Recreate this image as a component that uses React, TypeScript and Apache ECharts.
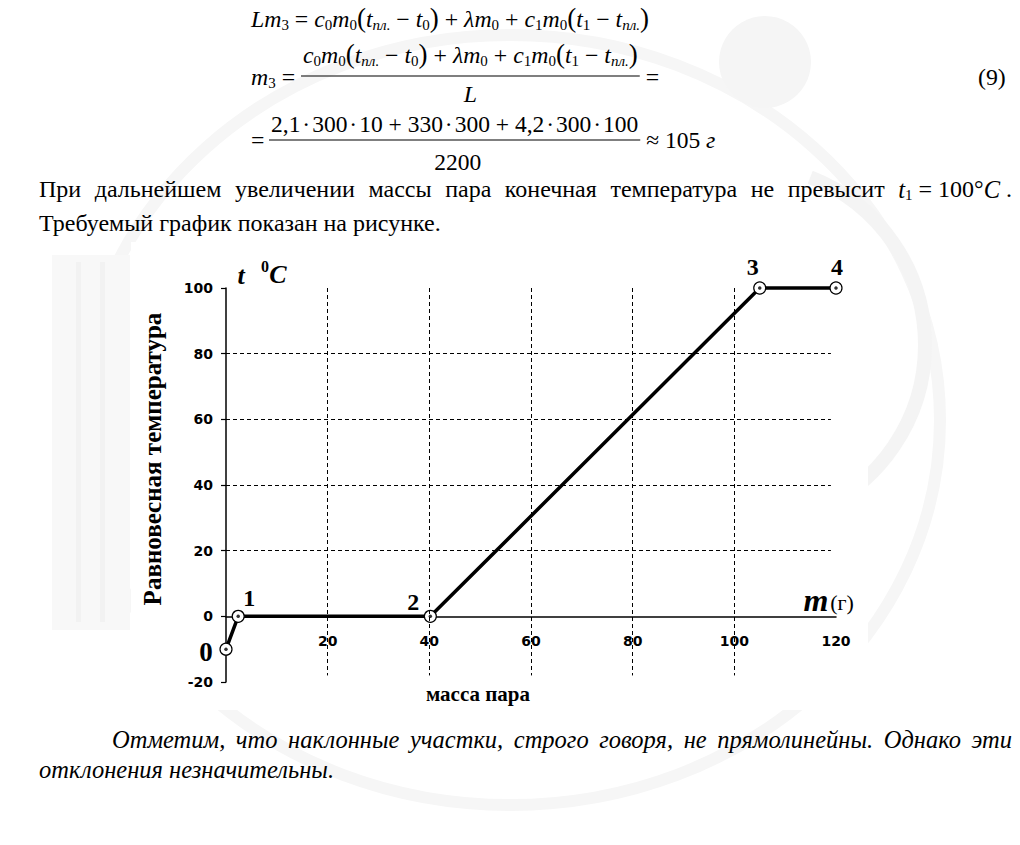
import React, { useEffect, useRef } from "react";
import * as echarts from "echarts";

const W = 1020;
const H = 845;

// ---------- chart data ----------
const massPoints = [0, 2.4, 40.2, 105, 120];
const tempPoints = [-10, 0, 0, 100, 100];
const pointLabels = ["0", "1", "2", "3", "4"];
const xTickInterval = 20;
const yTickInterval = 20;
const xMin = 0;
const xMax = 120;
const yMin = -20;
const yMax = 100;
const gridXValues = [20, 40, 60, 80, 100];
const gridYValues = [20, 40, 60, 80];
const gridLineBottom = -18;
const gridLineRight = 119;

// ---------- texts ----------
const yTitle = "Равновесная температура";
const xTitle = "масса пара";
const para1Words = ["При", "дальнейшем", "увеличении", "массы", "пара", "конечная", "температура", "не", "превысит"];
const para2 = "Требуемый график показан на рисунке.";
const noteWords = ["Отметим,", "что", "наклонные", "участки,", "строго", "говоря,", "не", "прямолинейны.", "Однако", "эти"];
const note2 = "отклонения незначительны.";

// label offsets (style only)
const labelOffsets = [
  [-20, 3],
  [11, -18],
  [-17, -14],
  [-7, -21],
  [1, -21],
];

const SERIF = "Liberation Serif";
const SANS = "DejaVu Sans";

// grid geometry (layout)
const GRID_LEFT = 226;
const GRID_TOP = 288;
const GRID_W = 610;
const GRID_H = 394;

type Kind = { size: number; it: boolean; bold?: boolean; dy: number };
const KINDS: Record<string, Kind> = {
  n: { size: 23.8, it: false, dy: 0 },
  i: { size: 23.8, it: true, dy: 0 },
  d: { size: 23.5, it: false, dy: 0 },
  s: { size: 15, it: false, dy: 6 },
  si: { size: 15, it: true, dy: 6 },
  p: { size: 27, it: false, dy: -1 },
  N: { size: 24, it: false, dy: 0 },
  I: { size: 24.5, it: true, dy: 0 },
  S: { size: 15, it: false, dy: 6 },
};

let mctx: CanvasRenderingContext2D | null = null;
function measure(text: string, k: Kind) {
  if (!mctx) mctx = document.createElement("canvas").getContext("2d");
  mctx!.font = `${k.it ? "italic " : ""}${k.bold ? "bold " : ""}${k.size}px "${SERIF}"`;
  return mctx!.measureText(text).width;
}

type Seg = [string, string];

function runWidth(segs: Seg[]) {
  let w = 0;
  for (const [t, k] of segs) w += measure(t, KINDS[k]);
  return w;
}

function textStyle(text: string, k: Kind) {
  const st: any = {
    text,
    fontFamily: SERIF,
    fontSize: k.size,
    fill: "#000",
    align: "left",
    verticalAlign: "middle",
  };
  if (k.it) st.fontStyle = "italic";
  if (k.bold) st.fontWeight = "bold";
  return st;
}

function runEls(segs: Seg[], x: number, y: number): any[] {
  const els: any[] = [];
  let cx = x;
  for (const [t, kn] of segs) {
    const k = KINDS[kn];
    els.push({ type: "text", x: cx, y: y + k.dy, z: 10, style: textStyle(t, k) });
    cx += measure(t, k);
  }
  return els;
}

function justify(words: Seg[][], x1: number, x2: number, y: number): any[] {
  const widths = words.map(runWidth);
  const total = widths.reduce((a, b) => a + b, 0);
  const gap = (x2 - x1 - total) / (words.length - 1);
  const els: any[] = [];
  let cx = x1;
  words.forEach((w, i) => {
    els.push(...runEls(w, cx, y));
    cx += widths[i] + gap;
  });
  return els;
}

const numer: Seg[] = [
  ["c", "i"], ["0", "s"], ["m", "i"], ["0", "s"], ["(", "p"], ["t", "i"], ["пл.", "si"], [" − ", "n"], ["t", "i"], ["0", "s"], [")", "p"],
  [" + ", "n"], ["λ", "i"], ["m", "i"], ["0", "s"], [" + ", "n"],
  ["c", "i"], ["1", "s"], ["m", "i"], ["0", "s"], ["(", "p"], ["t", "i"], ["1", "s"], [" − ", "n"], ["t", "i"], ["пл.", "si"], [")", "p"],
];
const row1: Seg[] = [["L", "i"], ["m", "i"], ["3", "s"], [" = ", "n"], ...numer];
const HS = "\u200A";
const numer3: Seg[] = [[`2,1${HS}·${HS}300${HS}·${HS}10 + 330${HS}·${HS}300 + 4,2${HS}·${HS}300${HS}·${HS}100`, "d"]];

function titleText(x: number, y: number, text: string, size: number, opts: any = {}) {
  const st: any = { text, fontFamily: SERIF, fontSize: size, fill: "#000", align: "center", verticalAlign: "middle" };
  if (opts.italic) st.fontStyle = "italic";
  if (opts.bold) st.fontWeight = "bold";
  const el: any = { type: "text", z: 10, x, y, style: st };
  if (opts.rotation) el.rotation = opts.rotation;
  return el;
}

function buildGraphics(): any[] {
  const g: any[] = [];
  // faint watermark
  g.push({ type: "ellipse", z: -20, silent: true, shape: { cx: 510, cy: 420, rx: 430, ry: 385 }, style: { fill: "none", stroke: "#f6f6f6", lineWidth: 12 } });
  g.push({ type: "circle", z: -20, silent: true, shape: { cx: 765, cy: 62, r: 46 }, style: { fill: "#f5f5f5" } });
  g.push({ type: "rect", z: -20, silent: true, shape: { x: 52, y: 255, width: 78, height: 375 }, style: { fill: "#f8f8f8" } });
  g.push({ type: "rect", z: -19, silent: true, shape: { x: 76, y: 262, width: 5, height: 360 }, style: { fill: "#f2f2f2" } });
  g.push({ type: "rect", z: -19, silent: true, shape: { x: 100, y: 262, width: 5, height: 360 }, style: { fill: "#f2f2f2" } });
  g.push({ type: "arc", z: -20, silent: true, shape: { cx: 745, cy: 345, r: 180, startAngle: -1.2, endAngle: 1.2 }, style: { fill: "none", stroke: "#f4f4f4", lineWidth: 14 } });
  // white inset of the figure
  g.push({ type: "rect", z: -5, silent: true, shape: { x: 131, y: 242, width: 737, height: 468 }, style: { fill: "#fff" } });

  // formulas
  g.push(...runEls(row1, 251, 19));
  g.push(...runEls([["m", "i"], ["3", "s"], [" =", "n"]], 251, 77));
  const nx = 303;
  const nw = runWidth(numer);
  g.push(...runEls(numer, nx, 55));
  g.push({ type: "line", z: 10, shape: { x1: nx - 2, y1: 76, x2: nx + nw + 2, y2: 76 }, style: { stroke: "#000", lineWidth: 1.2 } });
  const lw = runWidth([["L", "i"]]);
  g.push(...runEls([["L", "i"]], nx + nw / 2 - lw / 2, 94));
  g.push(...runEls([[" =", "n"]], nx + nw + 2, 77));

  g.push(...runEls([["=", "n"]], 251, 140));
  const n3x = 271;
  const n3w = runWidth(numer3);
  g.push(...runEls(numer3, n3x, 124));
  g.push({ type: "line", z: 10, shape: { x1: n3x - 2, y1: 140, x2: n3x + n3w + 2, y2: 140 }, style: { stroke: "#000", lineWidth: 1.2 } });
  const dw = runWidth([["2200", "d"]]);
  g.push(...runEls([["2200", "d"]], n3x + n3w / 2 - dw / 2 + 3, 162));
  g.push(...runEls([[" ≈ 105 ", "d"], ["г", "i"]], n3x + n3w + 2, 140));
  g.push(...runEls([["(9)", "n"]], 978, 77));

  // paragraph
  const p1: Seg[][] = para1Words.map((w) => [[w, "N"]] as Seg[]);
  p1.push([["t", "I"], ["1", "S"], [" = 100°", "N"], ["C", "I"], [" .", "N"]]);
  g.push(...justify(p1, 39, 1012, 189));
  g.push(...runEls([[para2, "N"]], 39, 223));

  // note (italic)
  g.push(...justify(noteWords.map((w) => [[w, "I"]] as Seg[]), 112, 1012, 739));
  g.push(...runEls([[note2, "I"]], 39, 769));

  // chart titles
  g.push(titleText(241, 275, "t", 26, { italic: true, bold: true }));
  g.push(titleText(265, 266, "0", 16, { bold: true }));
  g.push(titleText(278, 274, "C", 26, { italic: true, bold: true }));
  g.push(titleText(816, 600, "m", 32, { italic: true, bold: true }));
  g.push(titleText(842, 602, "(г)", 22));
  g.push(titleText(478, 694, xTitle, 21, { bold: true }));
  g.push(titleText(152, 459, yTitle, 25, { bold: true, rotation: Math.PI / 2 }));
  return g;
}

function buildOption(): any {
  const axisLabel = { fontFamily: SANS, fontWeight: "bold", fontSize: 14, color: "#000" };
  // pixel distance from the grid bottom (y = yMin) up to y = 0
  const zeroOffset = (-yMin / (yMax - yMin)) * GRID_H;
  return {
    animation: false,
    backgroundColor: "#fff",
    grid: { left: GRID_LEFT, top: GRID_TOP, width: GRID_W, height: GRID_H },
    xAxis: {
      type: "value",
      min: xMin,
      max: xMax,
      interval: xTickInterval,
      offset: -zeroOffset,
      axisLine: { onZero: false, lineStyle: { color: "#000", width: 1.5 } },
      axisTick: { show: false },
      splitLine: { show: false },
      axisLabel: { ...axisLabel, margin: 18, formatter: (v: number) => (v === 0 ? "" : String(v)) },
    },
    yAxis: {
      type: "value",
      min: yMin,
      max: yMax,
      interval: yTickInterval,
      axisLine: { show: true, onZero: false, lineStyle: { color: "#000", width: 1.5 } },
      axisTick: { show: true, length: 5, lineStyle: { color: "#000", width: 1.2 } },
      splitLine: { show: false },
      axisLabel: { ...axisLabel, margin: 13 },
    },
    graphic: buildGraphics(),
    series: [
      {
        type: "line",
        data: [],
        silent: true,
        z: 1,
        markLine: {
          silent: true,
          symbol: ["none", "none"],
          label: { show: false },
          animation: false,
          lineStyle: { color: "#000", width: 1, type: [4, 3] },
          data: [
            ...gridXValues.map((x) => [{ coord: [x, yMax] }, { coord: [x, gridLineBottom] }]),
            ...gridYValues.map((y) => [{ coord: [xMin, y] }, { coord: [gridLineRight, y] }]),
          ],
        },
      },
      {
        type: "line",
        z: 3,
        clip: false,
        data: massPoints.map((m, i) => ({
          value: [m, tempPoints[i]],
          label: { offset: labelOffsets[i], fontSize: i === 0 ? 27 : 24 },
        })),
        symbol: "circle",
        symbolSize: 12,
        itemStyle: { color: "#fff", borderColor: "#000", borderWidth: 1.2 },
        lineStyle: { color: "#000", width: 3.5 },
        label: {
          show: true,
          position: "inside",
          formatter: (p: any) => pointLabels[p.dataIndex],
          fontFamily: SERIF,
          fontWeight: "bold",
          color: "#000",
        },
      },
      {
        type: "scatter",
        z: 4,
        clip: false,
        silent: true,
        data: massPoints.map((m, i) => [m, tempPoints[i]]),
        symbolSize: 3.5,
        itemStyle: { color: "#000" },
      },
    ],
  };
}

export default function App() {
  const ref = useRef<HTMLDivElement>(null);
  useEffect(() => {
    const chart = echarts.init(ref.current!, null, { renderer: "svg", width: W, height: H });
    chart.setOption(buildOption());
    return () => chart.dispose();
  }, []);
  return (
    <div
      ref={ref}
      style={{ position: "fixed", left: 0, top: 0, width: W, height: H, background: "#fff" }}
    />
  );
}
